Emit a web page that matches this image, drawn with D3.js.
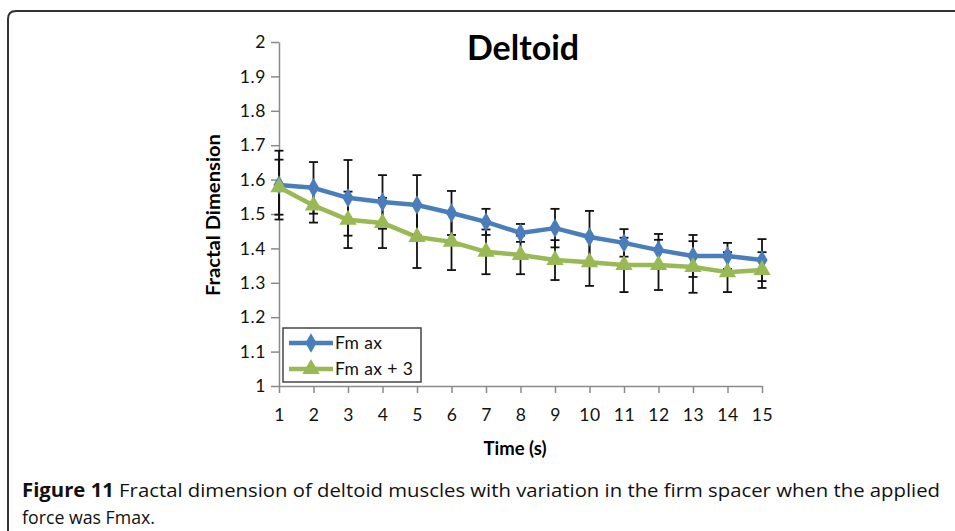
<!DOCTYPE html>
<html><head><meta charset="utf-8">
<script src="https://cdn.jsdelivr.net/npm/d3@7"></script>
<style>body{margin:0;background:#fff}svg{display:block}</style>
</head><body>
<svg id="c" width="955" height="531"></svg>
<script>
const times = [1,2,3,4,5,6,7,8,9,10,11,12,13,14,15];
const fmax = [1.584,1.576,1.547,1.535,1.526,1.503,1.477,1.445,1.459,1.433,1.416,1.395,1.378,1.378,1.366];
const fmaxErr = [0.100,0.075,0.110,0.078,0.087,0.064,0.038,0.026,0.056,0.076,0.040,0.047,0.061,0.038,0.061];
const fmax3 = [1.578,1.525,1.483,1.474,1.433,1.419,1.390,1.381,1.366,1.360,1.352,1.352,1.346,1.331,1.337];
const fmax3Err = [0.080,0.050,0.082,0.073,0.090,0.082,0.065,0.056,0.058,0.069,0.079,0.073,0.075,0.058,0.052];
const yTicks = [1,1.1,1.2,1.3,1.4,1.5,1.6,1.7,1.8,1.9,2];
const yTickLabels = ["1","1.1","1.2","1.3","1.4","1.5","1.6","1.7","1.8","1.9","2"];
const legendNames = ["Fm ax","Fm ax + 3"];
const colors = ["#4A7EBB","#98B954"];

const svg = d3.select("#c");
const font = "Lato, 'Open Sans', sans-serif";

// frame
svg.append("path").attr("d","M8,540 L8,19 Q8,11 16,11 L960,11")
  .attr("fill","none").attr("stroke","#333").attr("stroke-width",2);

const x = d3.scaleLinear().domain([1,15]).range([279,762]);
const y = d3.scaleLinear().domain([1,2]).range([386,42]);

// axes
const ya = svg.append("g").attr("transform","translate(279,0)")
  .call(d3.axisLeft(y).tickValues(yTicks).tickSize(8).tickSizeOuter(0).tickPadding(5)
    .tickFormat((d,i)=>yTickLabels[i]));
const xa = svg.append("g").attr("transform","translate(0,386)")
  .call(d3.axisBottom(x).tickValues(times).tickSize(7).tickSizeOuter(0).tickPadding(16)
    .tickFormat(d=>String(d)));
[ya,xa].forEach(g=>{
  g.selectAll("path,line").attr("stroke","#8a8a8a").attr("stroke-width",1.5);
  g.selectAll("text").attr("font-family",font).attr("font-size",17.5).attr("fill","#111")
    .attr("letter-spacing",0.6);
});

// title
svg.append("text").attr("x",523).attr("y",60).attr("text-anchor","middle")
  .attr("font-family",font).attr("font-weight","bold").attr("font-size",34).attr("fill","#000").text("Deltoid");
// axis titles
svg.append("text").attr("transform","translate(220,215) rotate(-90)").attr("text-anchor","middle")
  .attr("font-family",font).attr("font-weight","bold").attr("font-size",18).attr("fill","#000")
  .attr("textLength",162).attr("lengthAdjust","spacingAndGlyphs").text("Fractal Dimension");
svg.append("text").attr("x",515).attr("y",455).attr("text-anchor","middle")
  .attr("font-family",font).attr("font-weight","bold").attr("font-size",18.5).attr("fill","#000").text("Time (s)");

const series = [
  {vals:fmax, err:fmaxErr, color:colors[0], shape:d3.symbolDiamond, size:110},
  {vals:fmax3, err:fmax3Err, color:colors[1], shape:d3.symbolTriangle, size:130}
];
const line = d3.line().x((d,i)=>x(times[i])).y(d=>y(d));

series.forEach(s=>{
  svg.append("path").datum(s.vals).attr("d",line).attr("fill","none")
    .attr("stroke",s.color).attr("stroke-width",4.5).attr("stroke-linejoin","round");
});
// error bars
series.forEach(s=>{
  const g = svg.append("g").attr("stroke","#111").attr("stroke-width",1.8);
  s.vals.forEach((v,i)=>{
    const cx = x(times[i]), y1 = y(v+s.err[i]), y2 = y(v-s.err[i]);
    g.append("line").attr("x1",cx).attr("x2",cx).attr("y1",y1).attr("y2",y2);
    g.append("line").attr("x1",cx-4.5).attr("x2",cx+4.5).attr("y1",y1).attr("y2",y1);
    g.append("line").attr("x1",cx-4.5).attr("x2",cx+4.5).attr("y1",y2).attr("y2",y2);
  });
});
series.forEach(s=>{
  svg.append("g").selectAll("path").data(s.vals).join("path")
    .attr("transform",(d,i)=>`translate(${x(times[i])},${y(d)})`)
    .attr("d",d3.symbol().type(s.shape).size(s.size)).attr("fill",s.color);
});

// legend
const lg = svg.append("g");
lg.append("rect").attr("x",283).attr("y",328).attr("width",138).attr("height",54)
  .attr("fill","#fff").attr("stroke","#444").attr("stroke-width",1.5);
series.forEach((s,i)=>{
  const ly = 343 + i*26;
  lg.append("line").attr("x1",289).attr("x2",333).attr("y1",ly).attr("y2",ly)
    .attr("stroke",s.color).attr("stroke-width",4.5);
  lg.append("path").attr("transform",`translate(311,${ly})`)
    .attr("d",d3.symbol().type(s.shape).size(s.size)).attr("fill",s.color);
  lg.append("text").attr("x",335).attr("y",ly+6).attr("font-family",font).attr("font-size",17.5)
    .attr("letter-spacing",0.4).attr("fill","#111").text(legendNames[i]);
});

// caption
const cap1 = svg.append("text").attr("x",22).attr("y",497).attr("font-family","'Open Sans', sans-serif")
  .attr("font-size",19).attr("fill","#111");
cap1.append("tspan").attr("font-weight","bold").text("Figure 11");
cap1.append("tspan").text(" Fractal dimension of deltoid muscles with variation in the firm spacer when the applied");
cap1.attr("textLength",918).attr("lengthAdjust","spacingAndGlyphs");
const cap2 = svg.append("text").attr("x",22).attr("y",524).attr("font-family","'Open Sans', sans-serif")
  .attr("font-size",19).attr("fill","#111").text("force was Fmax.");
cap2.attr("textLength",133).attr("lengthAdjust","spacingAndGlyphs");
</script>
</body></html>
